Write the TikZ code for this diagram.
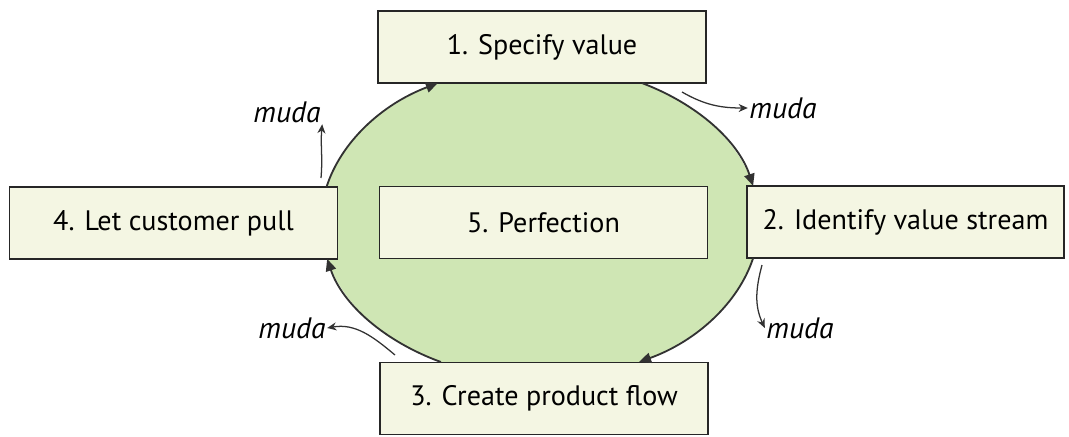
\documentclass[tikz,border=0pt]{standalone}
\usepackage{fontspec}
\setmainfont{PT Sans}
\usepackage{tikz}
\usetikzlibrary{arrows.meta,shapes.geometric}

\definecolor{loopgreen}{RGB}{207,230,180}
\definecolor{boxfill}{RGB}{244,246,227}
\definecolor{arcgrey}{RGB}{50,50,50}

\tikzset{
  stage/.style={draw=black!85, line width=0.8pt, fill=boxfill, minimum width=8.2cm, minimum height=1.8cm, font=\fontsize{20}{24}\selectfont},
  flow/.style={draw=arcgrey, line width=1.3pt, -{Triangle[length=3mm,width=2.6mm]}},
  waste/.style={draw=arcgrey, line width=0.9pt, -{Stealth[length=2.3mm,width=2mm]}},
  mudalabel/.style={font=\fontsize{21}{24}\selectfont\itshape, inner sep=1pt}
}

\begin{document}
\begin{tikzpicture}[x=0.025cm, y=0.025cm]
\useasboundingbox (0,0) rectangle (1069,436);
% the loop behind the steps
\node[ellipse, fill=loopgreen, inner sep=0pt, minimum width=10.95cm, minimum height=7.85cm] (loop) at (540,214) {};
% the five steps
\node[stage] (specify) at (542,389) {1. Specify value};
\node[stage, minimum width=7.925cm] (identify) at (905.5,214) {2. Identify value stream};
\node[stage] (create) at (544,37.5) {3. Create product flow};
\node[stage] (pull) at (173.5,213) {4. Let customer pull};
\node[stage] (perfect) at (543.5,213.5) {5. Perfection};
% arcs of the loop
\draw[flow] (loop.center) ++(167.1:219 and 157) arc[start angle=167.1, end angle=117.8, x radius=219, y radius=157];
\draw[flow] (loop.center) ++(62.2:219 and 157) arc[start angle=62.2, end angle=13.3, x radius=219, y radius=157];
\draw[flow] (loop.center) ++(-13.3:219 and 157) arc[start angle=-13.3, end angle=-63.1, x radius=219, y radius=157];
\draw[flow] (loop.center) ++(243.1:219 and 157) arc[start angle=243.1, end angle=193.6, x radius=219, y radius=157];
% muda leaving the loop
\node[mudalabel] (mudaTL) at (287,324) {muda};
\node[mudalabel] (mudaTR) at (783,328) {muda};
\node[mudalabel] (mudaBR) at (800,108) {muda};
\node[mudalabel] (mudaBL) at (292,108) {muda};
\coordinate (wasteTL) at (321,258);
\coordinate (wasteTR) at (682,344);
\coordinate (wasteBR) at (762,171);
\coordinate (wasteBL) at (395,81);
\draw[waste] (wasteTL) to[out=85, in=-95] (mudaTL.south east);
\draw[waste] (wasteTR) to[out=-30, in=180] (mudaTR.west);
\draw[waste] (wasteBR) to[out=255, in=115] (mudaBR.west);
\draw[waste] (wasteBL) to[out=140, in=10] (mudaBL.east);
\end{tikzpicture}
\end{document}
